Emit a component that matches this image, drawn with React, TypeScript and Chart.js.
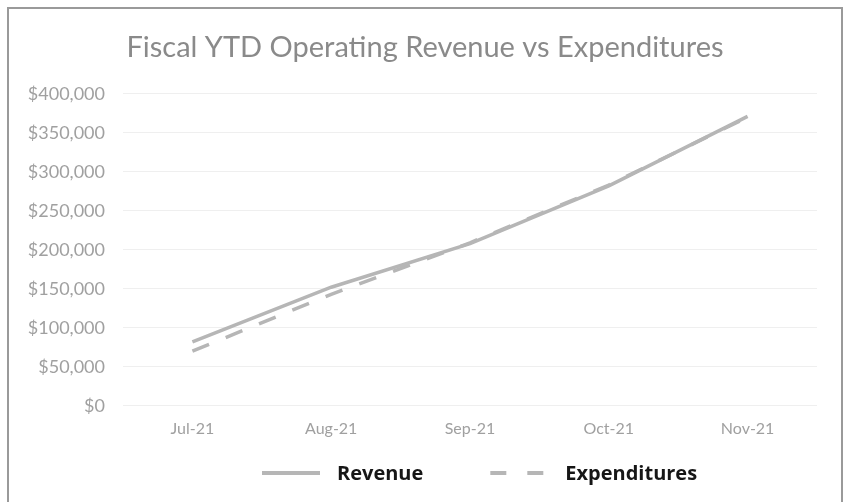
import React, { useEffect, useRef } from "react";
import { Chart, registerables } from "chart.js";

Chart.register(...registerables);

const categories = ["Jul-21", "Aug-21", "Sep-21", "Oct-21", "Nov-21"];
const revenue = [82000, 152000, 208000, 282000, 371000];
const expenditures = [70000, 143000, 209000, 283000, 370000];
const titleText = "Fiscal YTD Operating Revenue vs Expenditures";

const LINE = "#b6b6b6";
const TICK = "#a0a0a0";

// custom legend drawn under the plot (Excel-like spacing)
const legendPlugin = {
  id: "excelLegend",
  afterDraw(chart: any) {
    const ctx = chart.ctx as CanvasRenderingContext2D;
    const y = 464;
    let x = 253;
    ctx.save();
    ctx.font = 'bold 20px "Open Sans"';
    ctx.textBaseline = "middle";
    ctx.textAlign = "left";
    chart.data.datasets.forEach((ds: any) => {
      const dashed = Array.isArray(ds.borderDash) && ds.borderDash.length > 0;
      const sampleW = dashed ? 53 : 58;
      ctx.beginPath();
      ctx.strokeStyle = ds.borderColor;
      ctx.lineWidth = 4;
      ctx.setLineDash(dashed ? [16, 21] : []);
      ctx.moveTo(x, y);
      ctx.lineTo(x + sampleW, y);
      ctx.stroke();
      ctx.setLineDash([]);
      x += sampleW + (dashed ? 22 : 17);
      ctx.fillStyle = "#161616";
      ctx.fillText(ds.label, x, y + 1);
      x += ctx.measureText(ds.label).width + 67;
    });
    ctx.restore();
  },
};

export default function App() {
  const ref = useRef<HTMLCanvasElement | null>(null);
  useEffect(() => {
    if (!ref.current) return;
    const chart = new Chart(ref.current, {
      type: "line",
      data: {
        labels: categories,
        datasets: [
          {
            label: "Revenue",
            data: revenue,
            borderColor: LINE,
            backgroundColor: LINE,
            borderWidth: 3.5,
            pointRadius: 0,
            tension: 0,
          },
          {
            label: "Expenditures",
            data: expenditures,
            borderColor: LINE,
            backgroundColor: LINE,
            borderWidth: 3.5,
            borderDash: [18, 18],
            pointRadius: 0,
            tension: 0,
          },
        ],
      },
      options: {
        responsive: false,
        animation: false,
        layout: { padding: { left: 0, right: 0, top: 0, bottom: 54 } },
        plugins: {
          title: {
            display: true,
            text: titleText,
            color: "#8a8a8a",
            font: { family: "Lato", size: 29, weight: "normal" },
            padding: { top: 21, bottom: 29 },
          },
          legend: { display: false },
          tooltip: { enabled: false },
        },
        scales: {
          x: {
            offset: true,
            grid: { display: false, drawTicks: false },
            border: { display: false },
            ticks: { color: TICK, font: { family: "Lato", size: 16 }, padding: 13, maxRotation: 0 },
          },
          y: {
            min: 0,
            max: 400000,
            afterFit: (s: any) => {
              s.width = 114;
            },
            grid: { color: "#efefef", drawTicks: false, lineWidth: 1 },
            border: { display: false },
            ticks: {
              stepSize: 50000,
              color: TICK,
              padding: 18,
              font: { family: "Lato", size: 18 },
              callback: (v: any) => "$" + Number(v).toLocaleString("en-US"),
            },
          },
          yRight: {
            type: "linear",
            position: "right",
            display: true,
            min: 0,
            max: 1,
            afterFit: (s: any) => {
              s.width = 24;
            },
            grid: { display: false, drawTicks: false },
            border: { display: false },
            ticks: { display: false },
          },
        },
      },
      plugins: [legendPlugin],
    });
    return () => chart.destroy();
  }, []);
  return (
    <div
      style={{
        position: "absolute",
        left: 7,
        top: 7,
        width: 836,
        height: 500,
        border: "2px solid #9a9a9a",
        boxSizing: "border-box",
        background: "#fff",
      }}
    >
      <canvas ref={ref} width={832} height={496} style={{ display: "block" }} />
    </div>
  );
}
